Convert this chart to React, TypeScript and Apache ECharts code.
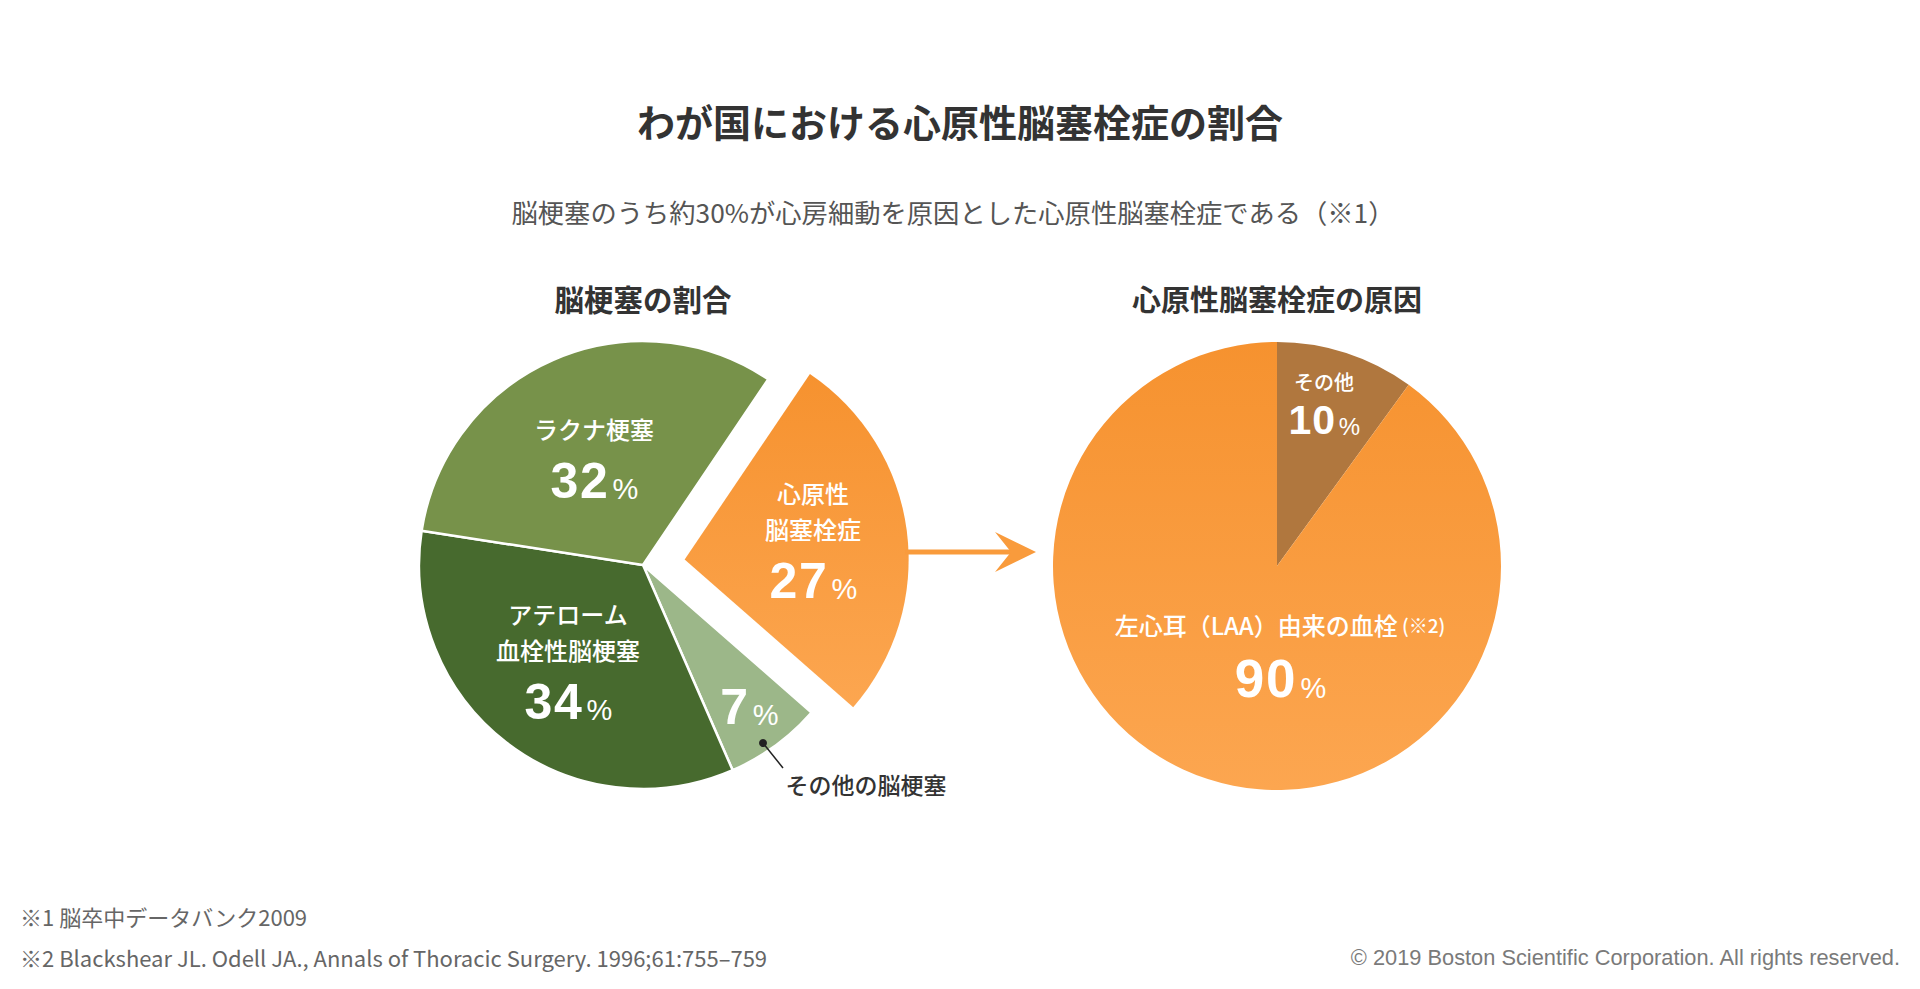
import React, { useEffect, useRef } from 'react';
import * as echarts from 'echarts';

// ---- data ----
const leftNames = ['心原性\n脳塞栓症', 'その他の脳梗塞', 'アテローム\n血栓性脳梗塞', 'ラクナ梗塞'];
const leftValues = [27, 7, 34, 32];
const rightNames = ['その他', '左心耳（LAA）由来の血栓'];
const rightValues = [10, 90];
const rightNote = ' (※2)';

const titleText = 'わが国における心原性脳塞栓症の割合';
const subtitleText = '脳梗塞のうち約30%が心房細動を原因とした心原性脳塞栓症である（※1）';
const leftHeading = '脳梗塞の割合';
const rightHeading = '心原性脳塞栓症の原因';
const calloutText = 'その他の脳梗塞';
const note1 = '※1 脳卒中データバンク2009';
const note2 = '※2 Blackshear JL. Odell JA., Annals of Thoracic Surgery. 1996;61:755–759';
const copyright = '© 2019 Boston Scientific Corporation. All rights reserved.';

// ---- layout / style ----
const CJK = '"Noto Sans CJK JP", "Noto Sans", sans-serif';
const NUM = '"Liberation Sans", Arial, sans-serif';
const LEFT_CENTER = [643, 565];
const RIGHT_CENTER = [1277, 566];
const RADIUS = 224;
const LEFT_START = 56;
const EXPLODE = 42;
const leftLabelPos = [
  [813, 474],
  [749, 672],
  [568, 595],
  [594, 410],
];
const rightLabelPos = [
  [1324, 364],
  [1280, 604],
];

const orangeGrad = () =>
  new echarts.graphic.LinearGradient(0, 0, 0, 1, [
    { offset: 0, color: '#f6922f' },
    { offset: 1, color: '#fca650' },
  ]);

const leftColors = ['orange', '#9cb789', '#476a2e', '#77924a'];

const digits = (v: number, tag: string) =>
  String(v)
    .split('')
    .map((d) => `{${tag}|${d}}`)
    .join('');

export default function App() {
  const ref = useRef<HTMLDivElement>(null);
  useEffect(() => {
    document.body.style.margin = '0';
    const chart = echarts.init(ref.current!, null, { renderer: 'svg' });

    const total = leftValues.reduce((a, b) => a + b, 0);
    const mid = ((LEFT_START - (360 * leftValues[0]) / total / 2) * Math.PI) / 180;
    const explodedCenter = [LEFT_CENTER[0] + EXPLODE * Math.cos(mid), LEFT_CENTER[1] - EXPLODE * Math.sin(mid)];

    const leftLabel = {
      show: true,
      position: 'inside',
      color: '#ffffff',
      formatter: (p: any) => {
        const names =
          p.dataIndex === 1 ? '' : p.name.split('\n').map((s: string) => `{n|${s}}`).join('\n') + '\n';
        return `${names}${digits(p.value, 'v')}{p|%}`;
      },
      rich: {
        n: { fontFamily: CJK, fontSize: 24, fontWeight: 500, color: '#fff', lineHeight: 36 },
        v: { fontFamily: NUM, fontSize: 50, fontWeight: 'bold', color: '#fff', lineHeight: 70, padding: [0, 0.8, 0, 0.8] },
        p: { fontFamily: NUM, fontSize: 29, color: '#fff', verticalAlign: 'bottom', padding: [0, 0, 13, 4] },
      },
    };
    const leftLayout = (params: any) => ({
      x: leftLabelPos[params.dataIndex][0],
      y: leftLabelPos[params.dataIndex][1],
      align: 'center',
      verticalAlign: 'top',
    });

    const option: any = {
      animation: false,
      backgroundColor: '#ffffff',
      series: [
        {
          type: 'pie',
          center: LEFT_CENTER,
          radius: RADIUS,
          startAngle: LEFT_START,
          clockwise: true,
          silent: true,
          avoidLabelOverlap: false,
          emphasis: { disabled: true },
          itemStyle: { borderColor: '#ffffff', borderWidth: 2.5 },
          labelLine: { show: false },
          label: leftLabel,
          labelLayout: leftLayout,
          data: leftValues.map((v, i) => ({
            value: v,
            name: leftNames[i],
            itemStyle: { color: i === 0 ? 'rgba(0,0,0,0)' : leftColors[i], borderWidth: i === 0 ? 0 : 2.5 },
            label: { show: i !== 0 },
          })),
        },
        {
          type: 'pie',
          center: explodedCenter,
          radius: RADIUS,
          startAngle: LEFT_START,
          clockwise: true,
          silent: true,
          avoidLabelOverlap: false,
          emphasis: { disabled: true },
          itemStyle: { borderWidth: 0 },
          labelLine: { show: false },
          label: leftLabel,
          labelLayout: leftLayout,
          data: leftValues.map((v, i) => ({
            value: v,
            name: leftNames[i],
            itemStyle: { color: i === 0 ? orangeGrad() : 'rgba(0,0,0,0)' },
            label: { show: i === 0 },
          })),
        },
        {
          type: 'pie',
          center: RIGHT_CENTER,
          radius: RADIUS,
          startAngle: 90,
          clockwise: true,
          silent: true,
          avoidLabelOverlap: false,
          emphasis: { disabled: true },
          labelLine: { show: false },
          label: {
            show: true,
            position: 'inside',
            color: '#ffffff',
            formatter: (p: any) =>
              p.dataIndex === 0
                ? `{n2|${p.name}}\n${digits(p.value, 'v2')}{p2|%}`
                : `{n3|${p.name}}{s|${rightNote}}\n${digits(p.value, 'v3')}{p3|%}`,
            rich: {
              n2: { fontFamily: CJK, fontSize: 20, fontWeight: 500, color: '#fff', lineHeight: 34 },
              v2: { fontFamily: NUM, fontSize: 41, fontWeight: 'bold', color: '#fff', lineHeight: 44, padding: [0, 0.5, 0, 0.5] },
              p2: { fontFamily: NUM, fontSize: 24, color: '#fff', verticalAlign: 'bottom', padding: [0, 0, 4, 3] },
              n3: { fontFamily: CJK, fontSize: 24, fontWeight: 500, color: '#fff', lineHeight: 40 },
              s: { fontFamily: CJK, fontSize: 19, fontWeight: 500, color: '#fff', lineHeight: 40 },
              v3: { fontFamily: NUM, fontSize: 53, fontWeight: 'bold', color: '#fff', lineHeight: 68, padding: [0, 1, 0, 1] },
              p3: { fontFamily: NUM, fontSize: 29, color: '#fff', verticalAlign: 'bottom', padding: [0, 0, 10, 4] },
            },
          },
          labelLayout: (params: any) => ({
            x: rightLabelPos[params.dataIndex][0],
            y: rightLabelPos[params.dataIndex][1],
            align: 'center',
            verticalAlign: 'top',
          }),
          data: rightValues.map((v, i) => ({
            value: v,
            name: rightNames[i],
            itemStyle: { color: i === 0 ? '#b0773e' : orangeGrad() },
          })),
        },
      ],
      graphic: [
        {
          type: 'text', x: 960, y: 120, z: 100,
          style: { text: titleText, fontFamily: CJK, fontSize: 38, fontWeight: 'bold', fill: '#333333', align: 'center', verticalAlign: 'middle' },
        },
        {
          type: 'text', x: 953, y: 211, z: 100,
          style: { text: subtitleText, fontFamily: CJK, fontSize: 26.3, fill: '#555555', align: 'center', verticalAlign: 'middle' },
        },
        {
          type: 'text', x: 643, y: 298, z: 100,
          style: { text: leftHeading, fontFamily: CJK, fontSize: 29.5, fontWeight: 'bold', fill: '#333333', align: 'center', verticalAlign: 'middle' },
        },
        {
          type: 'text', x: 1277, y: 298, z: 100,
          style: { text: rightHeading, fontFamily: CJK, fontSize: 29, fontWeight: 'bold', fill: '#333333', align: 'center', verticalAlign: 'middle' },
        },
        // arrow
        {
          type: 'line', z: 100,
          shape: { x1: 905, y1: 552, x2: 1026, y2: 552 },
          style: { stroke: '#f99b3c', lineWidth: 5 },
        },
        {
          type: 'polygon', z: 100,
          shape: { points: [[1036, 552], [995, 532], [1011, 552], [995, 572]] },
          style: { fill: '#f99b3c' },
        },
        // callout
        {
          type: 'line', z: 100,
          shape: { x1: 763, y1: 743, x2: 783, y2: 768 },
          style: { stroke: '#222222', lineWidth: 1.5 },
        },
        {
          type: 'circle', z: 100,
          shape: { cx: 763, cy: 743, r: 4 },
          style: { fill: '#222222' },
        },
        {
          type: 'text', x: 866, y: 784, z: 100,
          style: { text: calloutText, fontFamily: CJK, fontSize: 23, fontWeight: 500, fill: '#333333', align: 'center', verticalAlign: 'middle' },
        },
        // footnotes
        {
          type: 'text', x: 20, y: 916, z: 100,
          style: { text: note1, fontFamily: CJK, fontSize: 22, fill: '#666666', align: 'left', verticalAlign: 'middle' },
        },
        {
          type: 'text', x: 20, y: 957, z: 100,
          style: { text: note2, fontFamily: CJK, fontSize: 22, fill: '#666666', align: 'left', verticalAlign: 'middle' },
        },
        {
          type: 'text', x: 1900, y: 957, z: 100,
          style: { text: copyright, fontFamily: NUM, fontSize: 21.8, fill: '#7a7a7a', align: 'right', verticalAlign: 'middle' },
        },
      ],
    };
    chart.setOption(option);
    return () => chart.dispose();
  }, []);
  return <div ref={ref} style={{ width: 1920, height: 989 }} />;
}
